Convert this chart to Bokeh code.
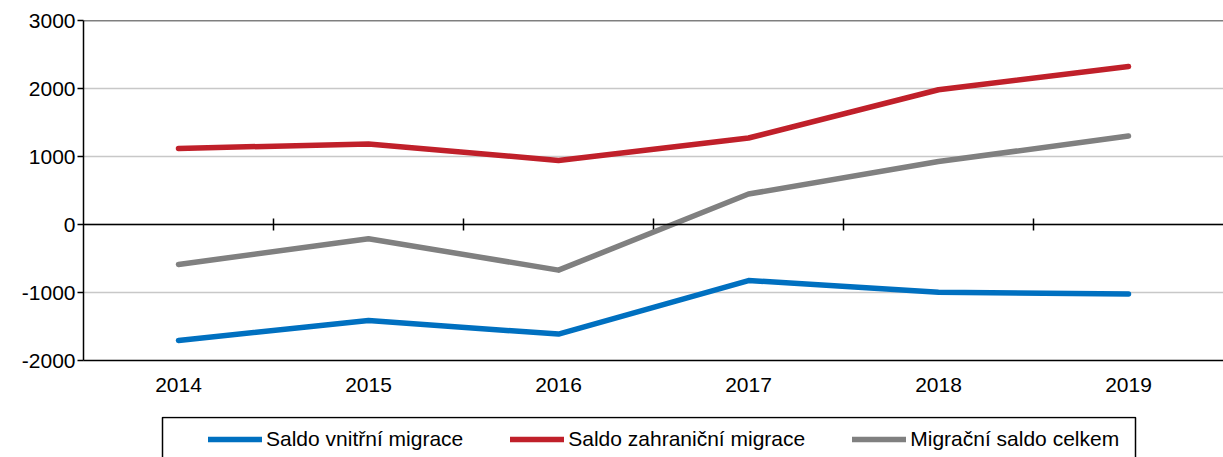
import numpy as np
from bokeh.plotting import figure
from bokeh.layouts import column
from bokeh.models import Range1d, FixedTicker, Span, Legend, LegendItem, BoxAnnotation
from bokeh.embed import file_html
from bokeh.resources import INLINE

# ---- data ----
years = ["2014", "2015", "2016", "2017", "2018", "2019"]
saldo_vnitrni = [-1706, -1412, -1612, -824, -996, -1022]
saldo_zahranicni = [1118, 1185, 941, 1272, 1982, 2324]
saldo_celkem = [-588, -209, -671, 448, 926, 1300]
y_ticks = [-2000, -1000, 0, 1000, 2000, 3000]
series_names = ["Saldo vnitřní migrace", "Saldo zahraniční migrace", "Migrační saldo celkem"]
series_values = [saldo_vnitrni, saldo_zahranicni, saldo_celkem]

# ---- styles / layout ----
colors = ["#0070C0", "#C0202A", "#808080"]
FONT = "Liberation Sans"
FS = "21px"
FRAME_W, FRAME_H = 1140, 340
BL, BT, BB = 83, 20, 56
LW = 5.5

n = len(years)
xs = list(range(n))

p = figure(frame_width=FRAME_W, frame_height=FRAME_H,
           x_range=Range1d(-0.5, n - 0.5),
           y_range=Range1d(y_ticks[0], y_ticks[-1]),
           output_backend="svg", toolbar_location=None,
           min_border_left=BL, min_border_right=0, min_border_top=BT, min_border_bottom=BB,
           outline_line_color=None, background_fill_color="white", border_fill_color="white")

# x axis (bottom, at -2000)
xa = p.xaxis[0]
xa.ticker = FixedTicker(ticks=xs)
xa.major_label_overrides = {i: y for i, y in enumerate(years)}
xa.major_tick_out = 0
xa.major_tick_in = 0
xa.minor_tick_out = 0
xa.minor_tick_in = 0
xa.axis_line_color = "black"
xa.axis_line_width = 1.5
xa.major_label_text_font = FONT
xa.major_label_text_font_size = FS
xa.major_label_text_color = "black"
xa.major_label_standoff = 17

# y axis
ya = p.yaxis[0]
ya.ticker = FixedTicker(ticks=y_ticks)
ya.major_label_overrides = {t: str(t) for t in y_ticks}
ya.major_tick_out = 6
ya.major_tick_in = 0
ya.minor_tick_out = 0
ya.minor_tick_in = 0
ya.major_tick_line_color = "black"
ya.major_tick_line_width = 1.5
ya.axis_line_color = "black"
ya.axis_line_width = 1.5
ya.major_label_text_font = FONT
ya.major_label_text_font_size = FS
ya.major_label_text_color = "black"
ya.major_label_standoff = 2

p.xgrid.visible = False
p.ygrid.ticker = FixedTicker(ticks=y_ticks)
p.ygrid.grid_line_color = "#C8C8C8"
p.ygrid.grid_line_width = 1.5

# top border and zero line
p.add_layout(Span(location=y_ticks[-1], dimension="width", line_color="black", line_width=1.5))
p.add_layout(Span(location=0, dimension="width", line_color="black", line_width=1.5))

# category boundary ticks on the zero line
bx = [i + 0.5 for i in range(n - 1)]
p.scatter(x=bx, y=[0] * len(bx), marker="dash", angle=np.pi / 2, size=12,
          line_color="black", line_width=1.5)

for vals, c in zip(series_values, colors):
    p.line(xs, vals, line_color=c, line_width=LW, line_cap="round", line_join="round")

# ---- legend strip (second figure, aligned with the chart) ----
STRIP_H = 41
LEG_LEFT, LEG_RIGHT = 162, 1135
p2 = figure(frame_width=FRAME_W, frame_height=STRIP_H,
            x_range=Range1d(-0.5, n - 0.5), y_range=Range1d(0, STRIP_H),
            x_axis_type=None, y_axis_type=None,
            output_backend="svg", toolbar_location=None,
            min_border_left=BL, min_border_right=0, min_border_top=0, min_border_bottom=0,
            outline_line_color=None,
            background_fill_color="white", border_fill_color="white")
p2.xgrid.visible = False
p2.ygrid.visible = False

def px_to_x(px):
    return (px - BL) / FRAME_W * n - 0.5

p2.add_layout(BoxAnnotation(left=px_to_x(LEG_LEFT), right=px_to_x(LEG_RIGHT),
                            top=STRIP_H - 1, bottom=-10,
                            fill_alpha=0, line_color="black", line_alpha=1.0, line_width=1.5))

leg_renderers = []
for vals, c in zip(series_values, colors):
    r = p2.line(xs, vals, line_color=c, line_width=LW, line_cap="round")
    r.visible = False
    leg_renderers.append(r)

legend = Legend(items=[LegendItem(label=nm, renderers=[r]) for nm, r in zip(series_names, leg_renderers)],
                location=(208 - BL, 6), orientation="horizontal",
                padding=0, spacing=47, glyph_width=54, glyph_height=20, label_standoff=4,
                label_text_font=FONT, label_text_font_size=FS, label_text_color="black",
                inactive_fill_alpha=0,
                border_line_alpha=0, background_fill_alpha=0, margin=0)
p2.add_layout(legend, "center")

layout = column(p, p2, spacing=0)
open("out.html", "w").write(file_html(layout, INLINE))
